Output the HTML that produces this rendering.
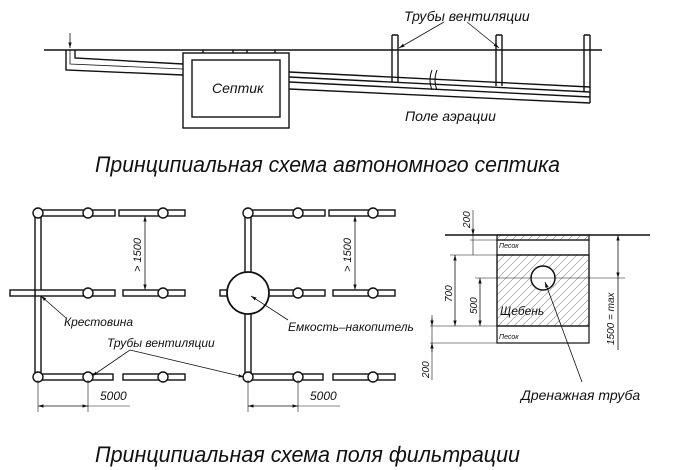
<!DOCTYPE html>
<html><head><meta charset="utf-8"><style>
body{margin:0;background:#fff}
svg{display:block}
text{font-family:"Liberation Sans","DejaVu Sans",sans-serif;font-style:italic;fill:#111}
</style></head><body>
<svg width="689" height="470" viewBox="0 0 689 470" xmlns="http://www.w3.org/2000/svg">
<defs>
<marker id="ar" viewBox="0 0 10 10" refX="10" refY="5" markerWidth="7" markerHeight="7" orient="auto-start-reverse"><path d="M0,2 L10,5 L0,8z" fill="#111"/></marker>
<pattern id="h" width="8" height="8" patternUnits="userSpaceOnUse"><path d="M0,8 L8,0" stroke="#888" stroke-width="0.6"/></pattern>
</defs>
<g stroke="#111" fill="none" stroke-width="1.4">
<!-- top scheme -->
<line x1="44" y1="50" x2="602" y2="50"/>
<line x1="70" y1="33" x2="70" y2="48" stroke-width="0.8" marker-end="url(#ar)"/>
<path d="M66,50 V70 L183,75"/>
<path d="M75,50 V58 L183,64"/>
<path d="M70,50 V64 L183,69" stroke-width="0.8"/>
<rect x="183" y="53" width="106" height="75"/>
<rect x="192" y="60" width="88" height="57"/>
<path d="M203,50V53M233,50V53M247,50V53M275,50V53"/>
<path d="M289,72 L590,87"/>
<path d="M289,77 L590,92"/>
<path d="M289,82 L590,97"/>
<path d="M289,89 L590,103"/>
<path d="M392,35 V82 M398,35 V82 M392,35 H398"/>
<path d="M496,35 V86 M502,35 V86 M496,35 H502"/>
<path d="M584,35 V92 M590,35 V103 M584,35 H590"/>
<path d="M432,70 q-4,10 0,20 M437,70 q-4,10 0,20" stroke="#111" stroke-width="1"/>
<line x1="444" y1="22" x2="399" y2="48" stroke-width="0.8" marker-end="url(#ar)"/>
<line x1="467" y1="22" x2="499" y2="48" stroke-width="0.8" marker-end="url(#ar)"/>
</g>
<text x="404" y="21" font-size="14">Трубы вентиляции</text>
<text x="212" y="93" font-size="14">Септик</text>
<text x="405" y="121" font-size="14">Поле аэрации</text>
<text x="95" y="172" font-size="22" textLength="465" lengthAdjust="spacingAndGlyphs">Принципиальная схема автономного септика</text>

<!-- bottom left E -->
<g stroke="#111" stroke-width="1.4" fill="#fff">
<g id="E">
<rect x="35" y="210" width="6" height="170"/>
<rect x="35" y="210" width="80" height="6"/><rect x="119" y="210" width="66" height="6"/>
<rect x="35" y="290" width="80" height="6"/><rect x="123" y="290" width="62" height="6"/>
<rect x="35" y="374" width="78" height="6"/><rect x="123" y="374" width="62" height="6"/>
<circle cx="38" cy="213" r="5"/><circle cx="88" cy="213" r="5"/><circle cx="163" cy="213" r="5"/>
<circle cx="88" cy="293" r="5"/><circle cx="163" cy="293" r="5"/>
<circle cx="38" cy="377" r="5"/><circle cx="88" cy="377" r="5"/><circle cx="163" cy="377" r="5"/>
<line x1="145" y1="216" x2="145" y2="290" stroke-width="0.8" marker-start="url(#ar)" marker-end="url(#ar)"/>
<line x1="38" y1="380" x2="38" y2="412" stroke-width="0.6"/><line x1="88" y1="380" x2="88" y2="412" stroke-width="0.6"/>
<line x1="38" y1="406" x2="88" y2="406" stroke-width="0.8" marker-start="url(#ar)" marker-end="url(#ar)"/>
<line x1="88" y1="406" x2="130" y2="406" stroke-width="0.6"/>
</g>
<use href="#E" transform="translate(210,0)"/>
<rect x="10" y="290" width="25" height="6"/>
<rect x="220" y="290" width="25" height="6"/>
<circle cx="248" cy="293" r="21" stroke-width="1.8"/>
<g stroke-width="0.8" fill="none">
<line x1="41" y1="296" x2="66" y2="318" marker-start="url(#ar)"/>
<line x1="251" y1="296" x2="288" y2="320" marker-start="url(#ar)"/>
<line x1="130" y1="350" x2="92" y2="376" marker-end="url(#ar)"/>
<line x1="130" y1="350" x2="244" y2="377" marker-end="url(#ar)"/>
</g>
</g>
<text x="0" y="0" font-size="11" transform="translate(141,272) rotate(-90)">&gt; 1500</text>
<text x="0" y="0" font-size="11" transform="translate(351,272) rotate(-90)">&gt; 1500</text>
<text x="100" y="400" font-size="12">5000</text>
<text x="310" y="400" font-size="12">5000</text>
<text x="64" y="326" font-size="12">Крестовина</text>
<text x="288" y="331" font-size="12">Емкость–накопитель</text>
<text x="107" y="347" font-size="12">Трубы вентиляции</text>

<!-- cross-section -->
<g stroke="#111" stroke-width="1.2" fill="none">
<rect x="497" y="240" width="92" height="103" fill="#fff"/>
<rect x="497" y="235" width="92" height="5" fill="url(#h)"/>
<rect x="497" y="255" width="92" height="71" fill="url(#h)"/>
<line x1="445" y1="235" x2="650" y2="235" stroke-width="1.5"/>
<line x1="497" y1="255" x2="589" y2="255"/><line x1="497" y1="326" x2="589" y2="326"/>
<circle cx="543" cy="278" r="12" fill="#fff" stroke-width="1.5"/>
<g stroke-width="0.6">
<line x1="470" y1="240" x2="497" y2="240"/><line x1="450" y1="255" x2="497" y2="255"/>
<line x1="475" y1="278" x2="590" y2="278"/><line x1="430" y1="326" x2="497" y2="326"/>
<line x1="430" y1="343" x2="497" y2="343"/><line x1="589" y1="235" x2="625" y2="235"/>
<line x1="589" y1="278" x2="625" y2="278"/>
<line x1="473" y1="210" x2="473" y2="255"/>
<line x1="432" y1="315" x2="432" y2="380"/>
</g>
<g stroke-width="0.8">
<line x1="455" y1="255" x2="455" y2="326" marker-start="url(#ar)" marker-end="url(#ar)"/>
<line x1="480" y1="278" x2="480" y2="326" marker-start="url(#ar)" marker-end="url(#ar)"/>
<line x1="618" y1="235" x2="618" y2="278" marker-start="url(#ar)" marker-end="url(#ar)"/>
<line x1="618" y1="278" x2="618" y2="350"/>
<line x1="473" y1="228" x2="473" y2="235" marker-end="url(#ar)"/>
<line x1="432" y1="318" x2="432" y2="326" marker-end="url(#ar)"/>
<line x1="432" y1="352" x2="432" y2="343" marker-end="url(#ar)"/>
<line x1="582" y1="382" x2="545" y2="282" marker-end="url(#ar)"/>
</g>
</g>
<text x="499" y="248" font-size="7">Песок</text>
<text x="499" y="339" font-size="7">Песок</text>
<text x="500" y="315" font-size="12">Щебень</text>
<text x="0" y="0" font-size="10" transform="translate(470,228) rotate(-90)">200</text>
<text x="0" y="0" font-size="10" transform="translate(452,302) rotate(-90)">700</text>
<text x="0" y="0" font-size="10" transform="translate(477,314) rotate(-90)">500</text>
<text x="0" y="0" font-size="10" transform="translate(429,378) rotate(-90)">200</text>
<text x="0" y="0" font-size="10" transform="translate(614,345) rotate(-90)">1500 = max</text>
<text x="521" y="400" font-size="14">Дренажная труба</text>

<text x="95" y="462" font-size="22" textLength="425" lengthAdjust="spacingAndGlyphs">Принципиальная схема поля фильтрации</text>
</svg>
</body></html>
